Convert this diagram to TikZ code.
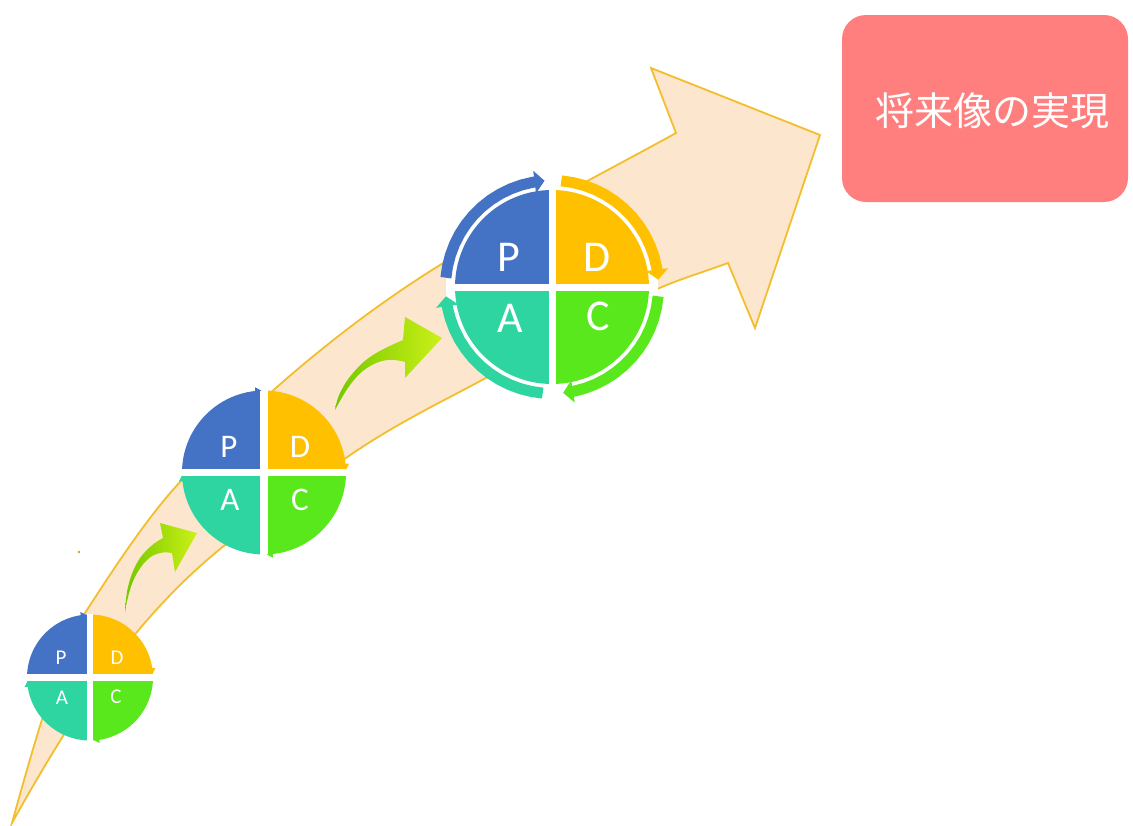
\documentclass[tikz,border=0pt]{standalone}
\usepackage{fontspec}
\setmainfont{Carlito}
\newfontfamily\cjkfont{Noto Sans CJK JP}
\usetikzlibrary{arrows.meta}
\definecolor{cP}{HTML}{4472C4}
\definecolor{cD}{HTML}{FFC000}
\definecolor{cA}{HTML}{2FD5A0}
\definecolor{cC}{HTML}{58E81C}
\definecolor{band}{HTML}{FDE6CE}
\definecolor{bandline}{HTML}{F3BE2C}
\definecolor{goal}{HTML}{FF7F7F}
\definecolor{arrA}{HTML}{74C800}
\definecolor{arrB}{HTML}{CCF018}
\definecolor{dotc}{HTML}{C8A020}
\newcommand{\pdcaPie}[5]{% cx, cy, R, gap
  \fill[cP] (#1,#2) -- plot[domain=180:90,samples=40] ({#1+#3*cos(\x)},{#2-#3*sin(\x)}) -- cycle;
  \fill[cD] (#1,#2) -- plot[domain=90:0,samples=40] ({#1+#3*cos(\x)},{#2-#3*sin(\x)}) -- cycle;
  \fill[cC] (#1,#2) -- plot[domain=0:-90,samples=40] ({#1+#3*cos(\x)},{#2-#3*sin(\x)}) -- cycle;
  \fill[cA] (#1,#2) -- plot[domain=-90:-180,samples=40] ({#1+#3*cos(\x)},{#2-#3*sin(\x)}) -- cycle;
  \draw[white, line width=#4pt] (#1-#3-1,#2) -- (#1+#3+1,#2);
  \draw[white, line width=#4pt] (#1,#2-#3-1) -- (#1,#2+#3+1);
  #5
}
\newcommand{\ringArc}[6]{% color, cx, cy, r, from, to
  \draw[#1, line width=11pt, -{Triangle[length=10pt,width=22pt]}]
    plot[domain=#5:#6, samples=14] ({#2+#4*cos(\x)},{#3-#4*sin(\x)});
}
\newcommand{\tinyTip}[7]{% color, cx, cy, R, angle, halfwidth, length
  \fill[#1] ({#2+#4*cos(#5)}, {#3-#4*sin(#5)})
    -- ({#2+#4*cos(#5)-#7*sin(#5)+#6*cos(#5)}, {#3-#4*sin(#5)-#7*cos(#5)-#6*sin(#5)})
    -- ({#2+#4*cos(#5)-#7*sin(#5)-#6*cos(#5)}, {#3-#4*sin(#5)-#7*cos(#5)+#6*sin(#5)}) -- cycle;
}
\tikzset{
  pdcaletter/.style={text=white, inner sep=0pt, anchor=center},
  bigletter/.style={pdcaletter, font=\fontsize{44}{44}\selectfont},
  midletter/.style={pdcaletter, font=\fontsize{33}{33}\selectfont},
  smallletter/.style={pdcaletter, font=\fontsize{21}{21}\selectfont},
  curvedarrow/.style={left color=arrA, right color=arrB},
}
\begin{document}
\begin{tikzpicture}[x=1pt,y=-1pt]
\useasboundingbox (0,0) rectangle (1133,825);
\fill[white] (0,0) rectangle (1133,825);

% big band arrow
\filldraw[fill=band, draw=bandline, line width=1.8pt, line join=miter, miter limit=10]
  (12,823) .. controls (36.3,735.5) and (60.7,650.7) .. (85,613)
  .. controls (116.7,563.9) and (148.3,516.2) .. (180,482)
  .. controls (212.3,447.1) and (244.7,415.4) .. (277,387)
  .. controls (331.3,339.2) and (385.7,298.7) .. (440,265)
  .. controls (518.7,216.2) and (597.3,176.3) .. (676,133)
  -- (651,68) -- (820,135) -- (755,328) -- (728,263)
  .. controls (703.7,272) and (679.3,279.1) .. (655,290)
  .. controls (586.7,320.7) and (518.3,361.5) .. (450,397)
  .. controls (414.3,415.6) and (378.7,435) .. (343,460)
  .. controls (303.7,487.5) and (264.3,513.5) .. (225,545)
  .. controls (195.7,568.5) and (166.3,596.8) .. (137,632)
  .. controls (95.3,682) and (53.7,748) .. (12,823) -- cycle;

% small green curved arrows
\shade[curvedarrow]
  plot[smooth, tension=0.7] coordinates {(125,613) (128,587) (137,563) (150,547) (163,538)}
  -- (160,523) -- (197,533) -- (175,572) -- (172,553)
  -- plot[smooth, tension=0.7] coordinates {(172,553) (160,553) (147,560) (135,577) (128,597) (125,613)} -- cycle;
\shade[curvedarrow]
  plot[smooth, tension=0.7] coordinates {(335,410) (340,393) (353,373) (373,355) (403,340)}
  -- (405,317) -- (442,338) -- (405,378) -- (405,362)
  -- plot[smooth, tension=0.7] coordinates {(405,362) (387,360) (367,368) (350,385) (335,410)} -- cycle;

% tiny dot
\fill[dotc] (79,552) circle[radius=1.3pt];

% big PDCA
\fill[white] (552,287) circle[radius=106pt];
\ringArc{cP}{552}{287}{106.5}{175}{94}
\ringArc{cD}{552}{287}{106.5}{85}{4}
\ringArc{cC}{552}{287}{106.5}{-5}{-84}
\ringArc{cA}{552}{287}{106.5}{-95}{-175}
\pdcaPie{552}{287}{97}{7}{}
\node[bigletter] (bigP) at (509,257) {P};
\node[bigletter] (bigD) at (597,257) {D};
\node[bigletter] (bigA) at (510,318) {A};
\node[bigletter] (bigC) at (598,316) {C};

% medium PDCA
\pdcaPie{264}{472.5}{82}{7.5}{}
\tinyTip{cP}{264}{472.5}{82}{92}{3.5}{6}
\tinyTip{cD}{264}{472.5}{82}{2}{3.5}{6}
\tinyTip{cC}{264}{472.5}{82}{-88}{3.5}{6}
\tinyTip{cA}{264}{472.5}{82}{-178}{3.5}{6}
\node[midletter] (midP) at (229,447) {P};
\node[midletter] (midD) at (300,447) {D};
\node[midletter] (midA) at (230,500) {A};
\node[midletter] (midC) at (300,500) {C};

% small PDCA
\pdcaPie{90}{677.5}{63}{6.5}{}
\tinyTip{cP}{90}{677.5}{63}{94}{3}{5}
\tinyTip{cD}{90}{677.5}{63}{4}{3}{5}
\tinyTip{cC}{90}{677.5}{63}{-86}{3}{5}
\tinyTip{cA}{90}{677.5}{63}{-176}{3}{5}
\node[smallletter] (smP) at (61,658) {P};
\node[smallletter] (smD) at (117,658) {D};
\node[smallletter] (smA) at (62,698) {A};
\node[smallletter] (smC) at (116,697) {C};

% goal box
\node[fill=goal, rounded corners=24pt, minimum width=286pt, minimum height=187pt, inner sep=0pt] (goal) at (985,108.5) {};
\node[text=white, inner sep=0pt, font=\cjkfont\fontsize{39}{39}\selectfont] (goaltext) at (992,111) {将来像の実現};
\end{tikzpicture}
\end{document}
